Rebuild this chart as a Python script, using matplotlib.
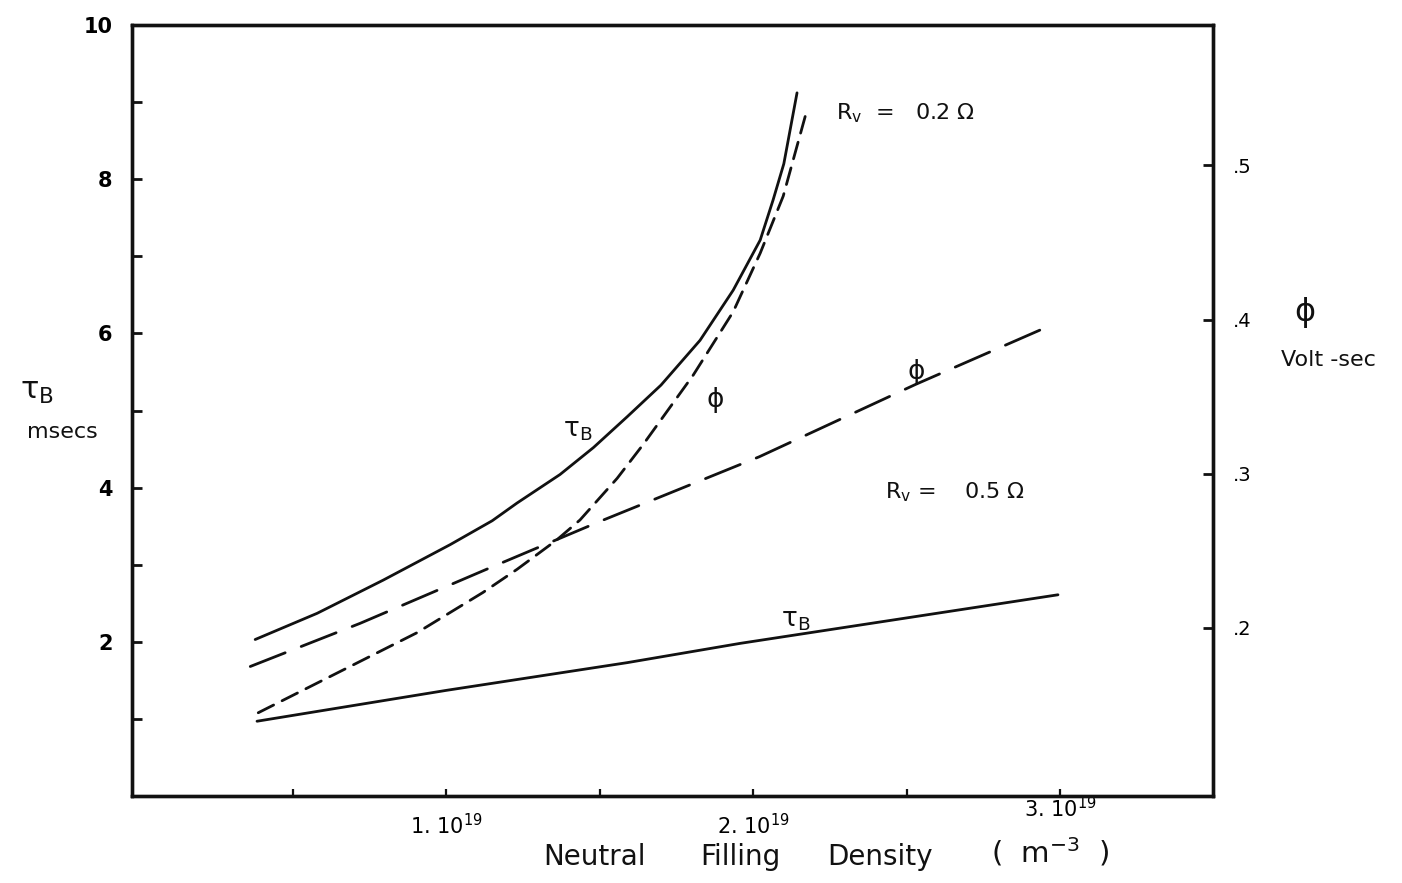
import matplotlib
matplotlib.use("Agg")
import matplotlib.pyplot as plt
from matplotlib.transforms import ScaledTranslation

plt.rcParams["font.family"] = ["DejaVu Sans"]
plt.rcParams["mathtext.default"] = "regular"

# Neutral filling density in units of 1e19 m^-3
x_tau_02 = [0.378, 0.58, 0.795, 1.013, 1.15, 1.231, 1.371, 1.48, 1.59, 1.70, 1.827, 1.935, 2.023,
            2.065, 2.10, 2.143]
tau_02 = [2.03, 2.37, 2.80, 3.26, 3.57, 3.80, 4.17, 4.52, 4.92, 5.33, 5.91, 6.56, 7.21,
          7.73, 8.20, 9.12]

x_phi_02 = [0.388, 0.687, 0.906, 1.12, 1.231, 1.36, 1.436, 1.557, 1.642, 1.805, 1.935, 2.023, 2.098, 2.17]
phi_02 = [0.145, 0.175, 0.197, 0.223, 0.238, 0.257, 0.270, 0.297, 0.319, 0.364, 0.405, 0.443, 0.480, 0.532]

x_phi_05 = [0.362, 0.72, 1.143, 1.5, 2.02, 2.53, 2.967]
phi_05 = [0.175, 0.203, 0.239, 0.269, 0.311, 0.358, 0.396]

x_tau_05 = [0.384, 1.0, 1.59, 1.958, 2.993]
tau_05 = [0.97, 1.37, 1.73, 1.98, 2.61]

tau_ticks = [2, 4, 6, 8, 10]
tau_minor = [1, 3, 5, 7, 9]
phi_ticks = [0.2, 0.3, 0.4, 0.5]
phi_ticklabels = [".2", ".3", ".4", ".5"]
x_ticks = [1, 2, 3]
x_ticklabels = [r"1. $10^{19}$", r"2. $10^{19}$", r"3. $10^{19}$"]
x_minor = [0.5, 1.5, 2.5]

fig = plt.figure(figsize=(14.02, 8.83), dpi=100)
ax = fig.add_axes([0.0942, 0.0985, 0.7710, 0.8732])
ax2 = ax.twinx()

ink = "#111111"
lw = 2.0

ax.plot(x_tau_02, tau_02, color=ink, lw=lw, solid_capstyle="round", solid_joinstyle="round")
ax.plot(x_tau_05, tau_05, color=ink, lw=lw, solid_capstyle="round")
ax2.plot(x_phi_02, phi_02, color=ink, lw=lw, dashes=(6.2, 3.4), dash_capstyle="round")
ax2.plot(x_phi_05, phi_05, color=ink, lw=lw, dashes=(13.5, 6.2), dash_capstyle="round")

ax.set_xlim(-0.023, 3.498)
ax.set_ylim(0, 10)
ax2.set_ylim(0.091, 0.591)

for a in (ax, ax2):
    for s in a.spines.values():
        s.set_linewidth(2.4)
        s.set_color(ink)

ax.set_xticks(x_ticks)
ax.set_xticklabels(x_ticklabels, fontsize=15)
ax.set_xticks(x_minor, minor=True)
ax.set_yticks(tau_ticks)
ax.set_yticklabels([str(t) for t in tau_ticks], fontsize=15, fontweight="bold")
ax.set_yticks(tau_minor, minor=True)
ax.tick_params(axis="y", which="both", direction="in", length=7, width=2, color=ink, pad=14,
               right=False)
ax.tick_params(axis="x", which="both", direction="in", length=5, width=1.6, color=ink, pad=12,
               top=False)

ax2.set_yticks(phi_ticks)
ax2.set_yticklabels(phi_ticklabels, fontsize=14)
ax2.tick_params(axis="y", direction="in", length=7, width=2, color=ink, pad=14)

# the last density label sits a little higher, clear of the unit label
last = ax.get_xticklabels()[-1]
last.set_transform(last.get_transform() + ScaledTranslation(0, 12 / 72, fig.dpi_scale_trans))

# in-plot annotations
ax.text(2.27, 8.86, r"R$_{v}$  =   0.2 $\Omega$", fontsize=16, va="center", ha="left", color=ink)
ax.text(2.43, 3.94, r"R$_{v}$ =    0.5 $\Omega$", fontsize=16, va="center", ha="left", color=ink)
ax.text(1.43, 4.75, r"$\tau_B$", fontsize=19, va="center", ha="center", color=ink)
ax.text(2.14, 2.28, r"$\tau_B$", fontsize=19, va="center", ha="center", color=ink)
ax.text(1.876, 5.14, r"$\phi$", fontsize=19, va="center", ha="center", color=ink)
ax.text(2.53, 5.50, r"$\phi$", fontsize=19, va="center", ha="center", color=ink)

# axis titles
fig.text(37 / 1402, 1 - 392 / 883, r"$\tau_B$", fontsize=22, ha="center", va="center", color=ink)
fig.text(62 / 1402, 1 - 432 / 883, "msecs", fontsize=16, ha="center", va="center", color=ink)
fig.text(1305 / 1402, 1 - 312 / 883, r"$\phi$", fontsize=23, ha="center", va="center", color=ink)
fig.text(1328 / 1402, 1 - 360 / 883, "Volt -sec", fontsize=16, ha="center", va="center", color=ink)
for word, xc in (("Neutral", 594), ("Filling", 740), ("Density", 880)):
    fig.text(xc / 1402, 1 - 857 / 883, word, fontsize=20, ha="center", va="center", color=ink)
fig.text(1050 / 1402, 1 - 852 / 883, r"(  m$^{-3}$  )", fontsize=21, ha="center",
         va="center", color=ink)

fig.savefig("out.png", dpi=100, facecolor="white")
